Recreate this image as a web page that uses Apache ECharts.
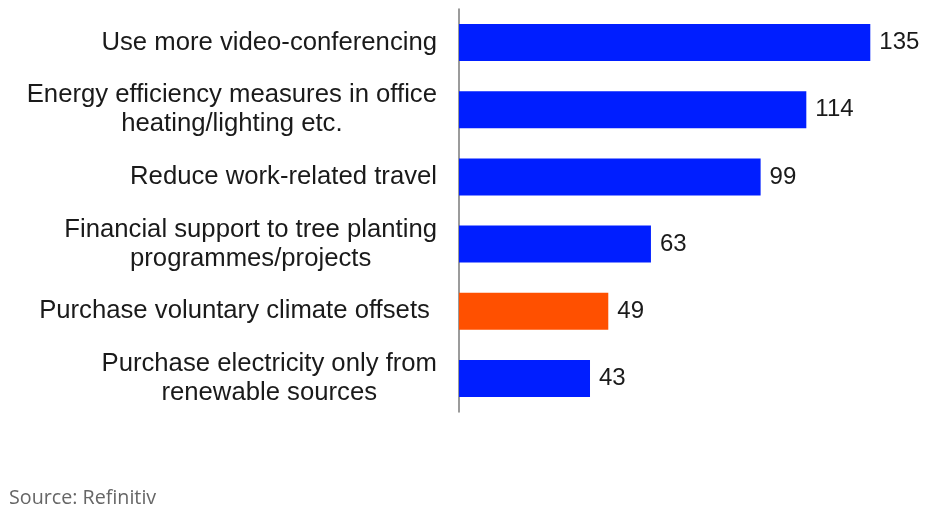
<!DOCTYPE html>
<html>
<head>
<meta charset="utf-8">
<script src="https://cdn.jsdelivr.net/npm/echarts@6/dist/echarts.min.js"></script>
<style>
  html, body { margin: 0; padding: 0; background: #ffffff; }
  #chart { width: 937px; height: 518px; }
</style>
</head>
<body>
<div id="chart"></div>
<script>
// Corporate climate actions, number of respondents
const categories = [
  'Use more video-conferencing',
  'Energy efficiency measures in office\nheating/lighting etc.',
  'Reduce work-related travel',
  'Financial support to tree planting\nprogrammes/projects',
  'Purchase voluntary climate offsets ',
  'Purchase electricity only from\nrenewable sources'
];
const values = [135, 114, 99, 63, 49, 43];
const highlighted = [false, false, false, false, true, false];

const BLUE = '#001eff';
const ORANGE = '#ff5000';
const SANS = "'Liberation Sans', Arial, sans-serif";
const LABEL_SIZE = 25.7;

const chart = echarts.init(document.getElementById('chart'), null, { renderer: 'canvas' });

chart.setOption({
  animation: false,
  backgroundColor: '#ffffff',
  grid: { left: 459, right: 21, top: 9, height: 403, containLabel: false },
  xAxis: {
    type: 'value',
    min: 0,
    max: 150,
    show: false
  },
  yAxis: {
    type: 'category',
    inverse: true,
    data: categories,
    axisLine: { show: true, lineStyle: { color: '#7a7a7a', width: 1.5 } },
    axisTick: { show: false },
    splitLine: { show: false },
    axisLabel: {
      margin: 22,
      align: 'right',
      fontFamily: SANS,
      fontSize: LABEL_SIZE,
      color: '#1a1a1a',
      lineHeight: 29,
      formatter: function (v) {
        return v.split('\n').map(function (l) { return '{c|' + l + '}'; }).join('\n');
      },
      rich: {
        c: {
          align: 'center',
          fontFamily: SANS,
          fontSize: LABEL_SIZE,
          color: '#1a1a1a',
          lineHeight: 29
        }
      }
    }
  },
  series: [{
    type: 'bar',
    barWidth: 37,
    data: values.map(function (v, i) {
      return { value: v, itemStyle: { color: highlighted[i] ? ORANGE : BLUE } };
    }),
    label: {
      show: true,
      position: 'right',
      distance: 9,
      fontFamily: SANS,
      fontSize: 24,
      color: '#1a1a1a'
    }
  }],
  graphic: [{
    type: 'text',
    left: 9,
    top: 488,
    style: {
      text: 'Source: Refinitiv',
      fontFamily: "'Open Sans', sans-serif",
      fontSize: 19.7,
      fill: '#666666'
    }
  }]
});
</script>
</body>
</html>
